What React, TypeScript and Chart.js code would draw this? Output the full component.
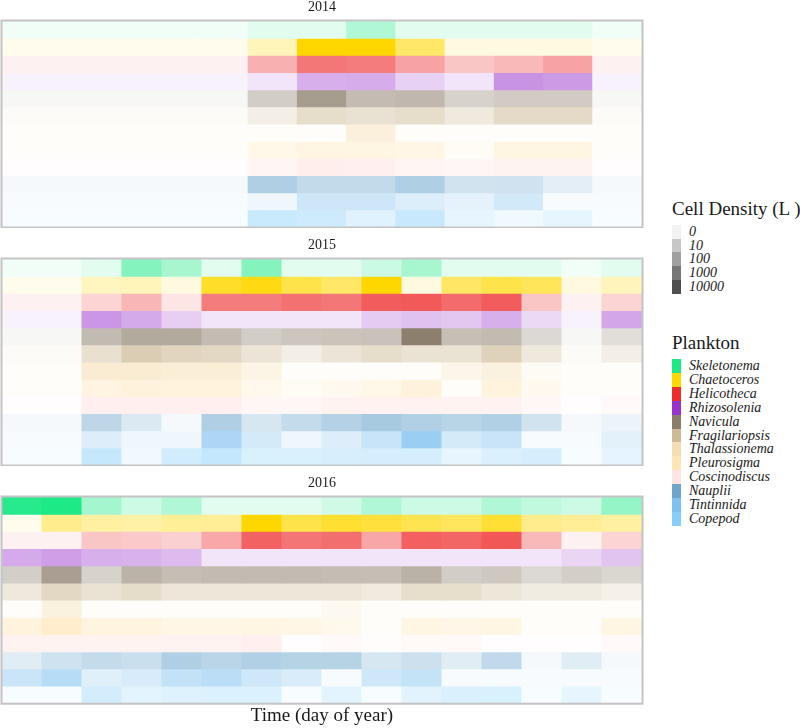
import React, { useEffect, useRef } from 'react';
import { Chart, registerables } from 'chart.js';

Chart.register(...registerables);

// ---------- data ----------
const plankton = [
  'Skeletonema', 'Chaetoceros', 'Helicotheca', 'Rhizosolenia', 'Navicula', 'Fragilariopsis',
  'Thalassionema', 'Pleurosigma', 'Coscinodiscus', 'Nauplii', 'Tintinnida', 'Copepod',
];
const planktonColors = [
  '#1de986', '#ffd700', '#ee2c2c', '#9932cc', '#8b7d6b', '#cdba96',
  '#f5deb3', '#ffe4b5', '#ffe4e1', '#6ca6cd', '#7ec0ee', '#87cefa',
];
const densityBreaks = [0, 10, 100, 1000, 10000];
const years = ['2014', '2015', '2016'];

const samples2014 = ['S1', 'S2', 'S3', 'S4', 'S5', 'S6', 'S7', 'S8', 'S9', 'S10', 'S11', 'S12', 'S13'];
const samples2015 = ['S1', 'S2', 'S3', 'S4', 'S5', 'S6', 'S7', 'S8', 'S9', 'S10', 'S11', 'S12', 'S13', 'S14', 'S15', 'S16'];
const samples2016 = ['S1', 'S2', 'S3', 'S4', 'S5', 'S6', 'S7', 'S8', 'S9', 'S10', 'S11', 'S12', 'S13', 'S14', 'S15', 'S16'];

// cell density (per L), rows in the order of `plankton`
const density2014 = [
  [0, 0, 0, 0, 0, 1, 1, 25, 1, 1, 1, 1, 0],
  [0, 0, 0, 0, 0, 10, 50000, 50000, 450, 1, 1, 1, 0],
  [0, 0, 0, 0, 0, 35, 800, 600, 70, 10, 20, 70, 0],
  [0, 0, 0, 0, 0, 1, 40, 50, 5, 1, 200, 140, 0],
  [0, 0, 0, 0, 0, 40, 2800, 170, 250, 25, 45, 45, 0],
  [0, 0, 0, 0, 0, 6, 140, 70, 140, 17, 230, 230, 0],
  [0, 0, 0, 0, 0, 0, 0, 100, 0, 0, 0, 0, 0],
  [0, 0, 0, 0, 0, 15, 40, 35, 25, 1, 35, 35, 0],
  [0, 0, 0, 0, 0, 30, 700, 250, 40, 25, 80, 80, 0],
  [0, 0, 0, 0, 0, 230, 55, 55, 250, 16, 18, 3, 0],
  [0, 0, 0, 0, 0, 1, 40, 40, 10, 4, 25, 0, 0],
  [0, 0, 0, 0, 0, 80, 55, 9, 90, 4, 1, 4, 0],
];
const density2015 = [
  [0, 0, 1, 230, 40, 1, 250, 1, 1, 6, 40, 1, 1, 1, 0, 1],
  [0, 0, 8, 10, 1, 7000, 20000, 1600, 450, 50000, 1, 500, 1600, 800, 1, 9],
  [0, 0, 4, 25, 1, 600, 600, 1100, 800, 3500, 4000, 1500, 3500, 10, 0, 4],
  [0, 0, 170, 55, 6, 1, 1, 1, 1, 8, 14, 10, 40, 3, 0, 70],
  [0, 0, 200, 900, 900, 170, 40, 70, 90, 100, 40000, 140, 200, 14, 0, 8],
  [0, 0, 80, 2000, 500, 300, 40, 6, 40, 140, 60, 60, 800, 20, 0, 6],
  [0, 0, 350, 350, 200, 200, 22, 0, 0, 0, 0, 10, 55, 1, 0, 0],
  [0, 0, 45, 100, 80, 80, 7, 1, 4, 16, 100, 0, 80, 4, 0, 0],
  [0, 0, 250, 250, 250, 250, 12, 25, 80, 140, 140, 80, 140, 8, 0, 4],
  [0, 0, 80, 7, 0, 230, 10, 50, 170, 450, 200, 120, 200, 16, 0, 1],
  [0, 0, 9, 1, 1, 800, 20, 1, 9, 70, 4000, 20, 60, 0, 0, 5],
  [0, 0, 110, 1, 40, 120, 17, 17, 22, 25, 25, 4, 16, 25, 0, 5],
];
const density2016 = [
  [30000, 50000, 50, 5, 25, 1, 1, 1, 4, 25, 5, 5, 25, 10, 5, 100],
  [0, 80, 30, 25, 50, 55, 50000, 1600, 5000, 3200, 1200, 700, 4500, 80, 55, 30],
  [0, 0, 10, 8, 5, 55, 2500, 900, 1200, 60, 2800, 2000, 4500, 20, 0, 4],
  [55, 110, 40, 35, 20, 1, 1, 1, 1, 1, 1, 1, 1, 1, 4, 12],
  [35, 2500, 25, 400, 150, 200, 200, 200, 160, 150, 450, 40, 60, 14, 35, 17],
  [20, 300, 55, 150, 30, 30, 30, 30, 30, 14, 120, 120, 27, 10, 10, 4],
  [0, 55, 0, 0, 0, 0, 0, 0, 3, 0, 0, 0, 0, 0, 0, 0],
  [90, 1200, 60, 55, 25, 25, 35, 25, 8, 0, 35, 20, 35, 0, 0, 35],
  [80, 80, 80, 80, 80, 80, 250, 0, 4, 1, 5, 5, 0, 0, 0, 4],
  [4, 20, 50, 30, 230, 110, 200, 140, 140, 10, 25, 4, 60, 0, 4, 0],
  [55, 300, 7, 16, 90, 200, 35, 14, 0, 35, 80, 0, 0, 0, 0, 0],
  [0, 0, 30, 6, 10, 12, 12, 0, 6, 0, 7, 14, 17, 0, 4, 0],
];

// ---------- styling helpers ----------
const FONT = "'Liberation Serif', 'Times New Roman', serif";
const TEXT = '#1a1a1a';

function alphaFor(v: number) {
  return Math.min(1, 0.065 + 0.2 * Math.log10(v + 1));
}
function shade(hex: string, v: number) {
  const a = alphaFor(v);
  const n = parseInt(hex.slice(1), 16);
  const ch = [(n >> 16) & 255, (n >> 8) & 255, n & 255].map((c) => Math.round(255 - a * (255 - c)));
  return `rgb(${ch[0]},${ch[1]},${ch[2]})`;
}

const panelBorder = {
  id: 'panelBorder',
  afterDatasetsDraw(chart: any) {
    const { ctx, chartArea } = chart;
    ctx.save();
    ctx.strokeStyle = '#c4c4c4';
    ctx.lineWidth = 2;
    ctx.strokeRect(
      chartArea.left - 0.5,
      chartArea.top - 0.5,
      chartArea.right - chartArea.left + 1,
      chartArea.bottom - chartArea.top + 1,
    );
    ctx.restore();
  },
};

function buildChart(canvas: HTMLCanvasElement, labels: string[], matrix: number[][], year: string, showX: boolean) {
  const datasets = plankton.map((name, r) => ({
    label: name,
    data: labels.map((lab, c) => ({ x: lab, y: [r, r + 1], v: matrix[r][c] })),
    backgroundColor: (ctx: any) => (ctx.raw ? shade(planktonColors[r], ctx.raw.v) : 'transparent'),
    borderWidth: 0,
    grouped: false,
    barPercentage: 1,
    categoryPercentage: 1,
    inflateAmount: 0.5,
  }));
  return new Chart(canvas, {
    type: 'bar',
    data: { labels, datasets: datasets as any },
    plugins: [panelBorder],
    options: {
      animation: false,
      responsive: false,
      maintainAspectRatio: false,
      layout: { padding: { left: 2, right: 3, top: 0, bottom: showX ? 0 : 1 } },
      plugins: {
        legend: { display: false },
        tooltip: { enabled: false },
        title: {
          display: true,
          text: year,
          color: TEXT,
          font: { family: FONT, size: 14, weight: 'normal', lineHeight: 1 },
          padding: { top: 0, bottom: 7 },
        },
      },
      scales: {
        x: {
          type: 'category',
          display: showX,
          offset: true,
          ticks: { display: false },
          grid: { display: false, drawTicks: false },
          border: { display: false },
          title: {
            display: showX,
            text: 'Time (day of year)',
            color: TEXT,
            font: { family: FONT, size: 19, lineHeight: 1.2 },
            padding: { top: 1, bottom: 1 },
          },
        },
        y: {
          type: 'linear',
          display: false,
          min: 0,
          max: 12,
          reverse: true,
        },
      },
    },
  });
}

function Panel({ top, height, labels, matrix, year, showX }: any) {
  const ref = useRef<HTMLCanvasElement>(null);
  useEffect(() => {
    const chart = buildChart(ref.current!, labels, matrix, year, showX);
    return () => chart.destroy();
  }, []);
  return (
    <canvas
      ref={ref}
      width={645}
      height={height}
      style={{ position: 'absolute', left: 0, top, width: 645, height }}
    />
  );
}

export default function App() {
  const densTop = 225;
  const densStep = 13.7;
  const plTop = 359.3;
  const plStep = 13.86;
  return (
    <div style={{ position: 'absolute', left: 0, top: 0, width: 800, height: 728, overflow: 'hidden', background: '#fff' }}>
      <Panel top={0} height={228} labels={samples2014} matrix={density2014} year={years[0]} showX={false} />
      <Panel top={238} height={228} labels={samples2015} matrix={density2015} year={years[1]} showX={false} />
      <Panel top={476} height={252} labels={samples2016} matrix={density2016} year={years[2]} showX={true} />

      <div style={{ position: 'absolute', left: 672, top: 199, font: `19px ${FONT}`, lineHeight: '20px', color: TEXT, whiteSpace: 'nowrap' }}>
        Cell Density (L )
      </div>
      {densityBreaks.map((b, i) => (
        <React.Fragment key={'d' + b}>
          <div style={{ position: 'absolute', left: 672, top: densTop + densStep * i, width: 9, height: densStep + 0.3, background: shade('#333333', b) }} />
          <div style={{ position: 'absolute', left: 689, top: densTop + densStep * i + densStep / 2 - 8, height: 16, lineHeight: '16px', font: `italic 14px ${FONT}`, color: TEXT, whiteSpace: 'nowrap' }}>
            {String(b)}
          </div>
        </React.Fragment>
      ))}

      <div style={{ position: 'absolute', left: 672, top: 333, font: `19px ${FONT}`, lineHeight: '20px', color: TEXT, whiteSpace: 'nowrap' }}>
        Plankton
      </div>
      {plankton.map((p, i) => (
        <React.Fragment key={p}>
          <div style={{ position: 'absolute', left: 672, top: plTop + plStep * i, width: 9, height: plStep + 0.3, background: planktonColors[i] }} />
          <div style={{ position: 'absolute', left: 689, top: plTop + plStep * i + plStep / 2 - 8, height: 16, lineHeight: '16px', font: `italic 14px ${FONT}`, color: TEXT, whiteSpace: 'nowrap' }}>
            {p}
          </div>
        </React.Fragment>
      ))}
    </div>
  );
}
